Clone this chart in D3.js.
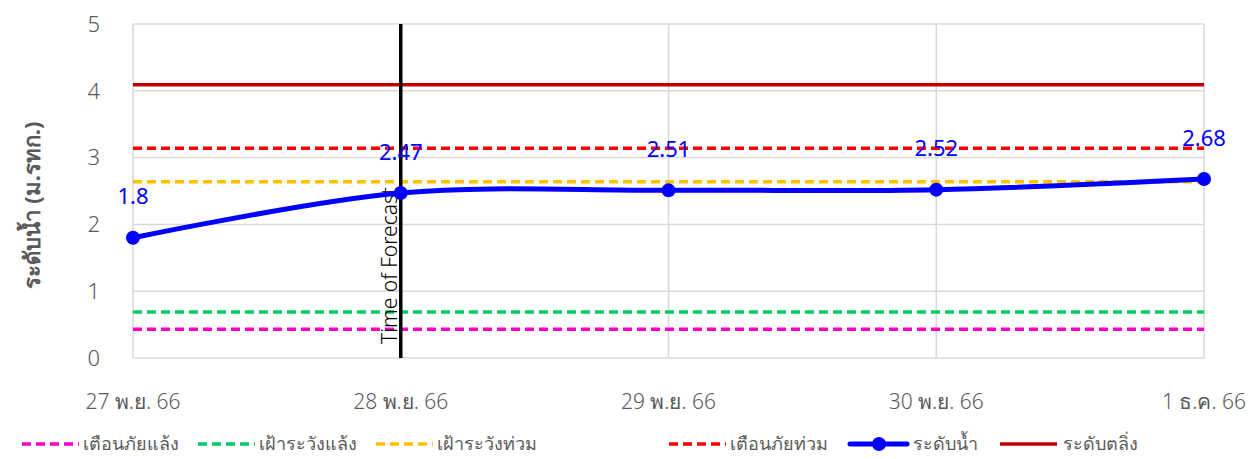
<!DOCTYPE html>
<html>
<head>
<meta charset="utf-8">
<script src="https://cdn.jsdelivr.net/npm/d3@7"></script>
<style>
  body { margin: 0; background: #fff; }
  text { font-family: "Noto Sans", "DejaVu Sans", sans-serif; }
</style>
</head>
<body>
<div id="chart"></div>
<script>
// data
const dates = ["27 พ.ย. 66", "28 พ.ย. 66", "29 พ.ย. 66", "30 พ.ย. 66", "1 ธ.ค. 66"];
const waterLevel = [1.8, 2.47, 2.51, 2.52, 2.68];
const thresholdNames = ["เตือนภัยแล้ง", "เฝ้าระวังแล้ง", "เฝ้าระวังท่วม", "เตือนภัยท่วม", "ระดับตลิ่ง"];
const thresholdValues = [0.43, 0.69, 2.64, 3.14, 4.09];
const yTicks = [0, 1, 2, 3, 4, 5];
const forecastDate = "28 พ.ย. 66";

const W = 1260, H = 459;
const margin = { top: 24, right: 56, bottom: 101, left: 133 };

const svg = d3.select("#chart").append("svg")
  .attr("width", W).attr("height", H);

const x = d3.scalePoint().domain(dates).range([margin.left, W - margin.right]);
const y = d3.scaleLinear().domain([0, 5]).range([H - margin.bottom, margin.top]);

// grid
svg.append("g").selectAll("line").data(yTicks).enter().append("line")
  .attr("x1", margin.left).attr("x2", W - margin.right)
  .attr("y1", d => y(d)).attr("y2", d => y(d))
  .attr("stroke", "#d9d9d9").attr("stroke-width", 1.5);
svg.append("g").selectAll("line").data(dates).enter().append("line")
  .attr("x1", d => x(d)).attr("x2", d => x(d))
  .attr("y1", y(5)).attr("y2", y(0))
  .attr("stroke", "#d9d9d9").attr("stroke-width", 1.5);

// y tick labels
svg.append("g").selectAll("text").data(yTicks).enter().append("text")
  .attr("x", 100).attr("y", d => y(d)).attr("dy", "0.35em")
  .attr("text-anchor", "end").attr("fill", "#595959")
  .style("font-size", "22px").style("font-weight", "300").text(d => d);

// x tick labels
svg.append("g").selectAll("text").data(dates).enter().append("text")
  .attr("x", d => x(d)).attr("y", 402).attr("dy", "0.35em")
  .attr("text-anchor", "middle").attr("fill", "#595959")
  .style("font-size", "21px").style("font-weight", "300").text(d => d);

// axis title
svg.append("text")
  .attr("transform", `translate(40,205) rotate(-90)`)
  .attr("text-anchor", "middle").attr("fill", "#595959")
  .style("font-size", "22px").style("font-weight", "bold")
  .text("ระดับน้ำ (ม.รทก.)");

const colors = ["#ff00cc", "#00cc66", "#ffc000", "#ff0000", "#c00000"];
const dashed = [true, true, true, true, false];

// threshold lines
thresholdValues.forEach((v, i) => {
  svg.append("line")
    .attr("x1", margin.left).attr("x2", W - margin.right)
    .attr("y1", y(v)).attr("y2", y(v))
    .attr("stroke", colors[i]).attr("stroke-width", 3.5)
    .attr("stroke-dasharray", dashed[i] ? "9,5" : null);
});

// time of forecast
svg.append("line")
  .attr("x1", x(forecastDate)).attr("x2", x(forecastDate))
  .attr("y1", y(5)).attr("y2", y(0))
  .attr("stroke", "#000").attr("stroke-width", 3.5);
svg.append("text")
  .attr("transform", `translate(${x(forecastDate) - 4},${y(0) - 14}) rotate(-90)`)
  .attr("fill", "#000").style("font-size", "21px").style("font-weight", "300")
  .text("Time of Forecast");

// water level
const line = d3.line().x((d, i) => x(dates[i])).y(d => y(d)).curve(d3.curveCatmullRom);
svg.append("path").datum(waterLevel)
  .attr("d", line).attr("fill", "none")
  .attr("stroke", "#0000ff").attr("stroke-width", 5);
svg.append("g").selectAll("circle").data(waterLevel).enter().append("circle")
  .attr("cx", (d, i) => x(dates[i])).attr("cy", d => y(d)).attr("r", 7)
  .attr("fill", "#0000ff");
svg.append("g").selectAll("text").data(waterLevel).enter().append("text")
  .attr("x", (d, i) => x(dates[i])).attr("y", d => y(d) - 41).attr("dy", "0.35em")
  .attr("text-anchor", "middle").attr("fill", "#0000ff")
  .style("font-size", "22px")
  .text(d => d);

// legend
const legendNames = thresholdNames.slice(0, 4).concat(["ระดับน้ำ", thresholdNames[4]]);
const legendColors = colors.slice(0, 4).concat(["#0000ff", colors[4]]);
const legendX = [22, 198, 376, 669, 850, 1000];
const lg = svg.append("g");
legendNames.forEach((name, i) => {
  const g = lg.append("g").attr("transform", `translate(${legendX[i]},444)`);
  const isBlue = i === 4;
  const isDash = i < 4;
  g.append("line").attr("x1", 0).attr("x2", 57)
    .attr("stroke", legendColors[i]).attr("stroke-width", isBlue ? 5 : 3.5)
    .attr("stroke-linecap", isBlue ? "round" : "butt")
    .attr("stroke-dasharray", isDash ? "9,5" : null);
  if (isBlue) g.append("circle").attr("cx", 29).attr("r", 7).attr("fill", "#0000ff");
  g.append("text").attr("x", isDash ? 61 : 63).attr("dy", "0.35em")
    .attr("fill", "#595959").style("font-size", "18px").text(name);
});
</script>
</body>
</html>
